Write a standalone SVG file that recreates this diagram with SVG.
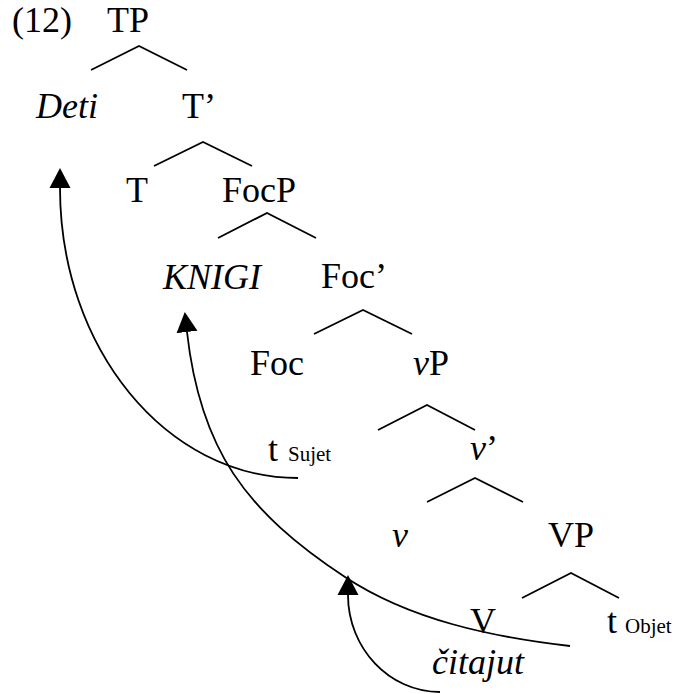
<svg xmlns="http://www.w3.org/2000/svg" width="674" height="694" viewBox="0 0 674 694">
<style>
text{font-family:'Liberation Serif','DejaVu Serif',serif;font-size:36px;fill:#000}
.it{font-style:italic}
.sub{font-size:21px}
.br{fill:none;stroke:#000;stroke-width:1.8}
.mv{fill:none;stroke:#000;stroke-width:1.8;marker-end:url(#ah)}
</style>
<defs>
<marker id="ah" viewBox="0 -11 21 22" refX="0" refY="0" markerWidth="21" markerHeight="22" markerUnits="userSpaceOnUse" orient="auto">
<path d="M0,-10.5 L20,0 L0,10.5 z" fill="#000"/>
</marker>
</defs>
<rect width="674" height="694" fill="#fff"/>
<g id="connectors">
<polyline class="br" points="91,70 139,46 187,70"/>
<polyline class="br" points="154,166 203,142 252,166"/>
<polyline class="br" points="218,238 267,213 316,238"/>
<polyline class="br" points="314,334 363,310 412,334"/>
<polyline class="br" points="378,430 427,405 475,430"/>
<polyline class="br" points="427,502 475,478 523,502"/>
<polyline class="br" points="522,598 571,573 619,598"/>
<path id="mv-subj" class="mv" d="M298,478 C166,478 60,348 60,188"/>
<path id="mv-obj" class="mv" d="M570,646 C492,637 410,620 345,577 C245,511 200,449 187,332"/>
<path id="mv-verb" class="mv" d="M440,692 C389,692 348,648 348,595"/>
</g>
<g id="ex-num"><text x="12" y="32">(12)</text></g>
<g id="TP"><text x="107" y="32">TP</text></g>
<g id="Deti"><text class="it" x="36" y="118">Deti</text></g>
<g id="Tbar"><text x="182" y="118">T’</text></g>
<g id="T"><text x="126" y="202">T</text></g>
<g id="FocP"><text x="222" y="202">FocP</text></g>
<g id="KNIGI"><text class="it" x="163" y="289">KNIGI</text></g>
<g id="Focbar"><text x="321" y="288">Foc’</text></g>
<g id="Foc"><text x="250" y="375">Foc</text></g>
<g id="vP"><text x="413" y="375"><tspan class="it">v</tspan>P</text></g>
<g id="t-Sujet"><text x="268" y="461">t</text><text class="sub" x="288" y="461">Sujet</text></g>
<g id="vbar"><text x="470" y="460"><tspan class="it">v</tspan>’</text></g>
<g id="v"><text class="it" x="392" y="547">v</text></g>
<g id="VP"><text x="548" y="547">VP</text></g>
<g id="V"><text x="470" y="633">V</text></g>
<g id="t-Objet"><text x="607" y="633">t</text><text class="sub" x="625" y="633">Objet</text></g>
<g id="citajut"><text class="it" x="432" y="674">čitajut</text></g>
</svg>
